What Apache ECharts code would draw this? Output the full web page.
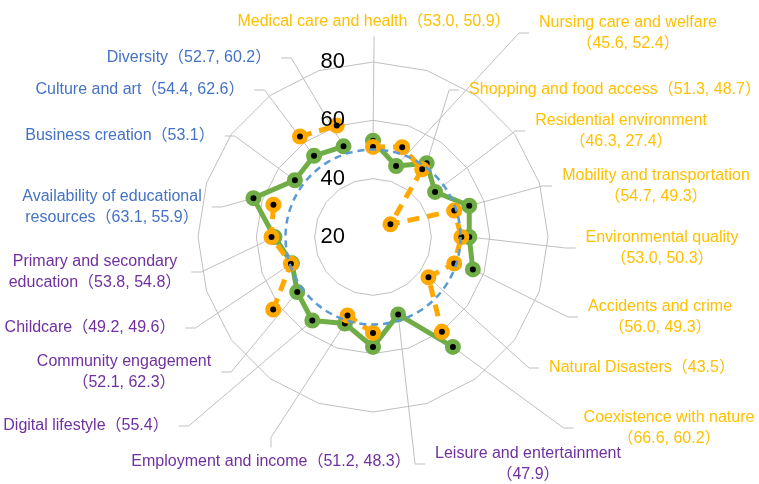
<!DOCTYPE html>
<html>
<head>
<meta charset="utf-8">
<script src="https://cdn.jsdelivr.net/npm/echarts@6/dist/echarts.min.js"></script>
<style>
  html, body { margin: 0; padding: 0; background: #fff; }
  #chart { width: 759px; height: 484px; }
</style>
</head>
<body>
<div id="chart"></div>
<script>
// categories clockwise from the top
const categories = [
  'Medical care and health', 'Nursing care and welfare', 'Shopping and food access',
  'Residential environment', 'Mobility and transportation', 'Environmental quality',
  'Accidents and crime', 'Natural Disasters', 'Coexistence with nature',
  'Leisure and entertainment', '', 'Employment and income', 'Digital lifestyle',
  'Community engagement', 'Childcare', 'Primary and secondary\neducation',
  'Availability of educational\nresources', 'Business creation', 'Culture and art', 'Diversity'
]
// 0 = orange group, 1 = purple group, 2 = blue group
const groups = [0, 0, 0, 0, 0, 0, 0, 0, 0, 1, 1, 1, 1, 1, 1, 1, 2, 2, 2, 2]

const greenValues = [53.0, 45.6, 51.3, 46.3, 54.7, 53.0, 56.0, null, 66.6, 47.9,
  57.7, 51.2, 55.4, 52.1, 49.2, 53.8, 63.1, 53.1, 54.4, 52.7]
const orangeValues = [50.9, 52.4, 48.7, 27.4, 49.3, 50.3, 49.3, 43.5, 60.2, null,
  52.9, 48.3, null, 62.3, 49.6, 54.8, 55.9, null, 62.6, 60.2]

const radiusMin = 20
const radiusMax = 80
const radiusStep = 20
const referenceLevel = 50

// label box centre [x, y, break line before values]
const labelPos = [
  [374, 22, 0], [628, 33, 1], [615, 90, 0], [621, 131, 1], [656, 186, 1],
  [662, 248, 1], [660, 317, 1], [642, 368, 0], [669, 428, 1], [528, 464, 1],
  null, [271, 462, 0], [86, 426, 0], [124, 372, 1], [90, 328, 0],
  [95, 272, 0], [112, 207, 0], [120, 136, 0], [140, 90, 0], [189, 58, 0]
]

const labelColors = ['#ffc000', '#7030a0', '#4472c4']
const center = [373, 237]
const radius = 175
const font = "'Liberation Sans', 'Noto Sans CJK JP', sans-serif"

const labelText = (i) => {
  const vals = [greenValues[i], orangeValues[i]]
    .filter(v => v != null)
    .map(v => v.toFixed(1))
    .join(', ')
  return categories[i] + (labelPos[i][2] ? '\n' : '') + '（' + vals + '）'
}

const buildData = (values, own) => values.map((v, i) => {
  const host = greenValues[i] != null ? 'green' : 'orange'
  const show = v != null && labelPos[i] != null && host === own
  return { value: v == null ? '-' : v, label: { show, color: labelColors[groups[i]] } }
})

const indicators = categories.map(() => ({ name: '', min: radiusMin, max: radiusMax }))

const seriesLabel = {
  show: false,
  fontSize: 16,
  fontFamily: font,
  lineHeight: 21,
  padding: [4, 10],
  formatter: p => labelText(p.dataIndex)
}

const labelLayout = (params) => {
  const p = labelPos[params.dataIndex]
  if (!p) return {}
  return { x: p[0], y: p[1], align: 'center', verticalAlign: 'middle' }
}

const labelLine = { show: true, length2: 10, lineStyle: { color: '#bfbfbf', width: 1 } }

const myChart = echarts.init(document.getElementById('chart'))

const option = {
  animation: false,
  radar: [
    {
      center, radius,
      startAngle: 90,
      shape: 'polygon',
      splitNumber: (radiusMax - radiusMin) / radiusStep,
      indicator: indicators,
      axisName: { show: false },
      axisLine: { show: false },
      splitArea: { show: false },
      splitLine: { lineStyle: { color: '#bfbfbf', width: 1 } }
    },
    {
      // dashed reference circle
      center, radius,
      startAngle: 90,
      shape: 'circle',
      z: 5,
      splitNumber: (radiusMax - radiusMin) / (referenceLevel - radiusMin),
      indicator: indicators,
      axisName: { show: false },
      axisLine: { show: false },
      splitArea: { show: false },
      splitLine: {
        lineStyle: {
          color: ['rgba(0,0,0,0)', '#5b9bd5', 'rgba(0,0,0,0)'],
          width: 2.5,
          type: [7, 5]
        }
      }
    }
  ],
  polar: { center, radius },
  angleAxis: {
    type: 'category',
    data: categories,
    boundaryGap: false,
    startAngle: 90,
    axisLine: { show: false },
    axisTick: { show: false },
    axisLabel: { show: false },
    splitLine: { show: false }
  },
  radiusAxis: {
    min: radiusMin,
    max: radiusMax,
    interval: radiusStep,
    z: 10,
    axisLine: { show: false },
    axisTick: { show: false },
    splitLine: { show: false },
    axisLabel: { fontSize: 22, color: '#000', margin: 28, fontFamily: font }
  },
  series: [
    {
      name: 'green',
      type: 'line',
      coordinateSystem: 'polar',
      data: buildData(greenValues, 'green'),
      symbol: 'circle',
      symbolSize: 11,
      lineStyle: { color: '#70ad47', width: 5 },
      itemStyle: { color: '#000', borderColor: '#70ad47', borderWidth: 5 },
      label: seriesLabel,
      labelLayout,
      labelLine,
      emphasis: { disabled: true }
    },
    {
      name: 'orange',
      type: 'line',
      coordinateSystem: 'polar',
      data: buildData(orangeValues, 'orange'),
      symbol: 'circle',
      symbolSize: 11,
      lineStyle: { color: '#ffa800', width: 5, type: [12, 8] },
      itemStyle: { color: '#000', borderColor: '#ffa800', borderWidth: 5 },
      label: seriesLabel,
      labelLayout,
      labelLine,
      emphasis: { disabled: true }
    }
  ]
}

myChart.setOption(option)
window.addEventListener('resize', () => myChart.resize())
</script>
</body>
</html>
